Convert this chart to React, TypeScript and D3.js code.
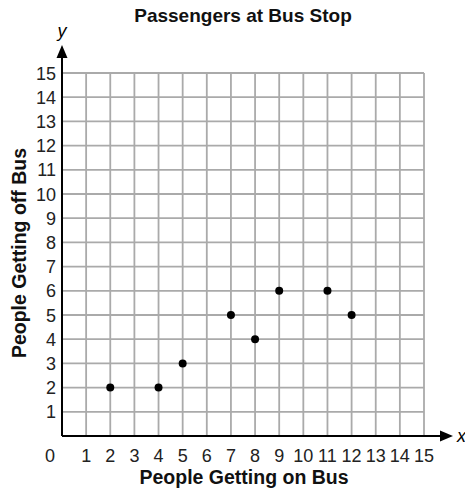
import React from "react";
import * as d3 from "d3";

const title = "Passengers at Bus Stop";
const xTitle = "People Getting on Bus";
const yTitle = "People Getting off Bus";
const xValues = [2, 4, 5, 7, 8, 9, 11, 12];
const yValues = [2, 2, 3, 5, 4, 6, 6, 5];
const ticks = d3.range(0, 16);

export default function App() {
  const W = 465, H = 491;
  const x = d3.scaleLinear().domain([0, 15]).range([62, 424]);
  const y = d3.scaleLinear().domain([0, 15]).range([436, 73]);
  const font = "Arial, 'Liberation Sans', sans-serif";
  return (
    <svg width={W} height={H} style={{ position: "absolute", left: 0, top: 0, background: "#fff" }} fontFamily={font}>
      <text x={243} y={22} textAnchor="middle" fontWeight="bold" fontSize={19} fill="#111">{title}</text>
      {ticks.slice(1).map((t) => (
        <line key={"vx" + t} x1={x(t)} x2={x(t)} y1={y(0)} y2={y(15)} stroke="#aaa" strokeWidth={1.8} />
      ))}
      {ticks.slice(1).map((t) => (
        <line key={"hy" + t} x1={x(0)} x2={x(15)} y1={y(t)} y2={y(t)} stroke="#aaa" strokeWidth={1.8} />
      ))}
      <line x1={x(0)} x2={446} y1={y(0)} y2={y(0)} stroke="#000" strokeWidth={2} />
      <path d={`M453,${y(0)} L440,${y(0) - 5.5} L440,${y(0) + 5.5} Z`} fill="#000" />
      <line x1={x(0)} x2={x(0)} y1={y(0)} y2={52} stroke="#000" strokeWidth={2} />
      <path d={`M${x(0)},45 L${x(0) - 5.5},58 L${x(0) + 5.5},58 Z`} fill="#000" />
      <text x={x(0)} y={37} textAnchor="middle" fontStyle="italic" fontSize={18}>y</text>
      <text x={457} y={442} textAnchor="start" fontStyle="italic" fontSize={18}>x</text>
      {ticks.slice(1).map((t) => (
        <text key={"yl" + t} x={56} y={y(t) + 6.5} textAnchor="end" fontSize={18} fill="#222">{t}</text>
      ))}
      {ticks.map((t) => (
        <text key={"xl" + t} x={t === 0 ? 50 : x(t)} y={462} textAnchor="middle" fontSize={18} fill="#222">{t}</text>
      ))}
      <text x={244} y={484} textAnchor="middle" fontWeight="bold" fontSize={19.5} fill="#111">{xTitle}</text>
      <text transform={`translate(26,253) rotate(-90)`} textAnchor="middle" fontWeight="bold" fontSize={19.5} fill="#111">{yTitle}</text>
      {xValues.map((v, i) => (
        <circle key={"p" + i} cx={x(v)} cy={y(yValues[i])} r={4} fill="#000" />
      ))}
    </svg>
  );
}
